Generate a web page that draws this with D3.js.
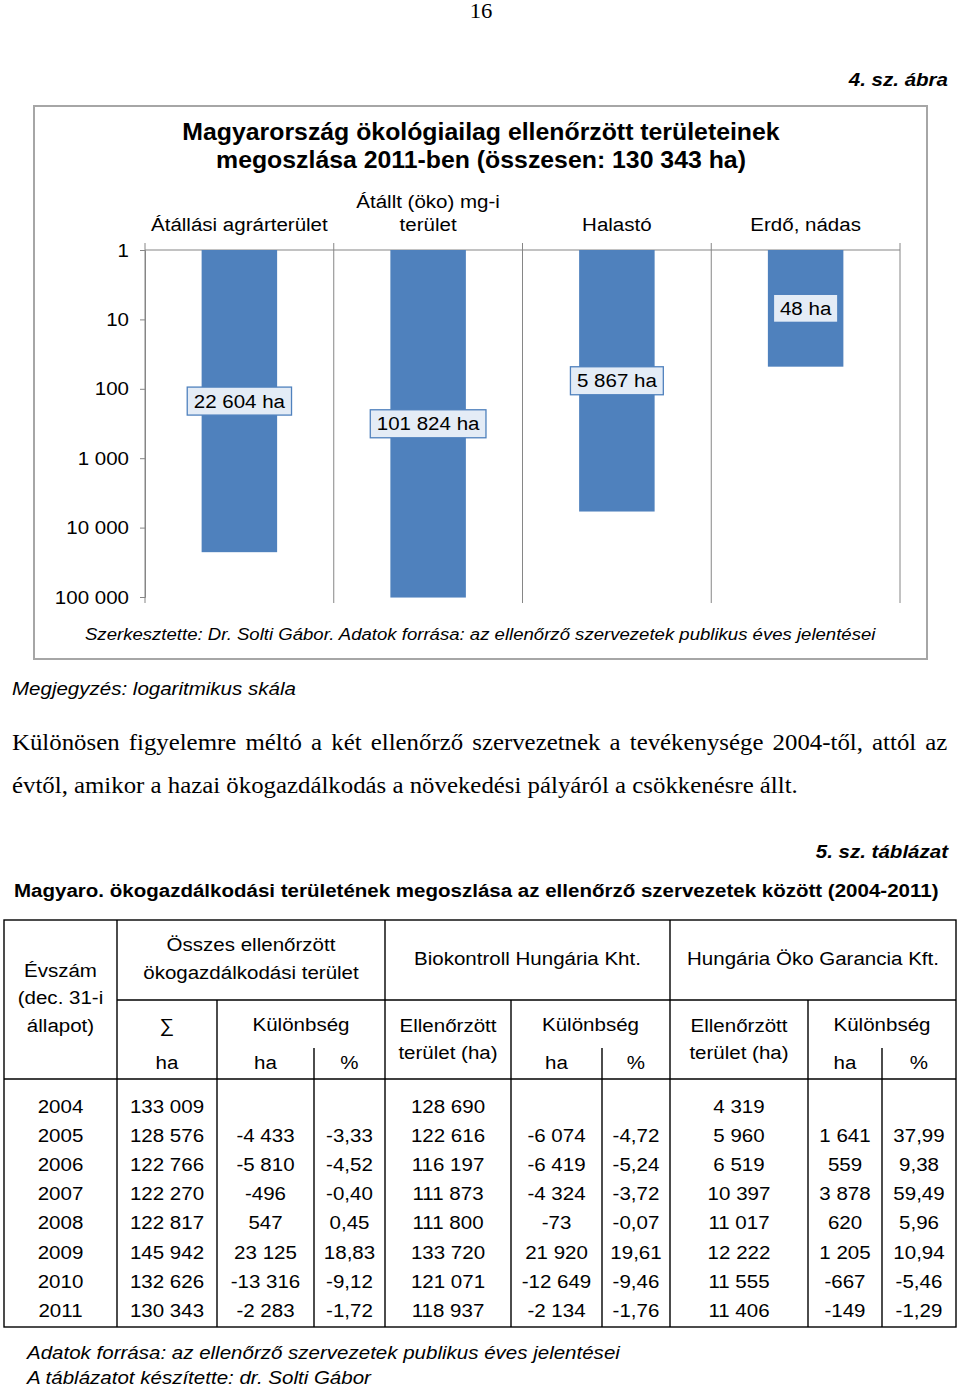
<!DOCTYPE html>
<html>
<head>
<meta charset="utf-8">
<script src="https://cdn.jsdelivr.net/npm/d3@7"></script>
<style>
  body { margin: 0; background: #fff; }
  svg { display: block; }
  text { font-family: "Liberation Sans", Arial, sans-serif; fill: #000; }
  .serif { font-family: "Liberation Serif", "Times New Roman", serif; }
</style>
</head>
<body>
<svg id="page" width="960" height="1388"></svg>
<script>
// chart data (2011)
const categories = ["Átállási agrárterület", "Átállt (öko) mg-i\nterület", "Halastó", "Erdő, nádas"];
const areas = [22604, 101824, 5867, 48];
const yTicks = [1, 10, 100, 1000, 10000, 100000];

// table data
const years = [2004, 2005, 2006, 2007, 2008, 2009, 2010, 2011];
const totalHa = [133009, 128576, 122766, 122270, 122817, 145942, 132626, 130343];
const totalDiff = [null, -4433, -5810, -496, 547, 23125, -13316, -2283];
const totalPct = [null, -3.33, -4.52, -0.40, 0.45, 18.83, -9.12, -1.72];
const bioHa = [128690, 122616, 116197, 111873, 111800, 133720, 121071, 118937];
const bioDiff = [null, -6074, -6419, -4324, -73, 21920, -12649, -2134];
const bioPct = [null, -4.72, -5.24, -3.72, -0.07, 19.61, -9.46, -1.76];
const hogHa = [4319, 5960, 6519, 10397, 11017, 12222, 11555, 11406];
const hogDiff = [null, 1641, 559, 3878, 620, 1205, -667, -149];
const hogPct = [null, 37.99, 9.38, 59.49, 5.96, 10.94, -5.46, -1.29];

const hu = d3.formatLocale({decimal: ",", thousands: " ", grouping: [3], currency: ["", " Ft"], minus: "-"});
const fInt = hu.format(",d");
const fPct = hu.format(".2f");

// the original text is a bit wider than the fonts we have
const k = 1.08;

let svg = d3.select("#page");

// page header
svg.append("text").attr("class", "serif").attr("x", 481).attr("y", 18)
    .attr("text-anchor", "middle").style("font-size", "21px").text("16");
svg.append("text").attr("x", 948).attr("y", 86).attr("text-anchor", "end")
    .style("font-size", "19px").style("font-weight", "bold").style("font-style", "italic")
    .text("4. sz. ábra");

// chart frame
svg.append("rect").attr("x", 34).attr("y", 106).attr("width", 893).attr("height", 553)
    .attr("fill", "#fff").attr("stroke", "#a6a6a6").attr("stroke-width", 2);

svg.append("text").attr("x", 481).attr("y", 140).attr("text-anchor", "middle")
    .style("font-size", "23px").style("font-weight", "bold")
    .selectAll("tspan").data(["Magyarország ökológiailag ellenőrzött területeinek", "megoszlása 2011-ben (összesen: 130 343 ha)"])
    .join("tspan").attr("x", 481).attr("dy", (d, i) => i ? 28 : 0).text(d => d);

let x = d3.scaleBand().domain(categories).range([145, 900]).paddingInner(0.6).paddingOuter(0.3);
let y = d3.scaleLog().domain([1, 100000]).range([250, 597]);

let chart = svg.append("g");

// category separators
chart.selectAll("line.sep")
    .data(categories.map(c => x(c) - x.step() * 0.3).concat([900]))
    .join("line").attr("class", "sep")
    .attr("x1", d => d).attr("x2", d => d).attr("y1", 243).attr("y2", 603)
    .attr("stroke", "#868686").attr("stroke-width", 1);

chart.append("line").attr("x1", 145).attr("x2", 900).attr("y1", y(1)).attr("y2", y(1))
    .attr("stroke", "#868686").attr("stroke-width", 1.2);

// value axis
let yAxis = chart.append("g").attr("transform", "translate(145,0)")
    .call(d3.axisLeft(y).tickValues(yTicks).tickFormat(fInt).tickSize(5).tickPadding(11));
yAxis.select(".domain").attr("stroke", "#868686");
yAxis.selectAll(".tick line").attr("stroke", "#868686");
yAxis.selectAll(".tick text").style("font-size", "19px").style("font-family", "Liberation Sans, Arial, sans-serif");

// category labels on top
chart.selectAll("text.cat").data(categories).join("text").attr("class", "cat")
    .attr("text-anchor", "middle").style("font-size", "19px")
    .each(function(d) {
        let lines = d.split("\n");
        let cx = x(d) + x.bandwidth() / 2;
        d3.select(this).attr("x", cx).selectAll("tspan").data(lines).join("tspan")
            .attr("x", cx).attr("y", (l, i) => 231 - (lines.length - 1 - i) * 23).text(l => l);
    });

// bars
chart.selectAll("rect.bar").data(areas).join("rect").attr("class", "bar")
    .attr("x", (d, i) => x(categories[i])).attr("width", x.bandwidth())
    .attr("y", y(1)).attr("height", d => y(d) - y(1))
    .attr("fill", "#4F81BD");

// data labels
let lab = chart.selectAll("g.lab").data(areas).join("g").attr("class", "lab")
    .attr("transform", (d, i) => `translate(${x(categories[i]) + x.bandwidth() / 2},${(y(1) + y(d)) / 2})`);
lab.append("rect").attr("fill", "#e4ecf6").attr("stroke", "#4F81BD").attr("stroke-width", 1.3);
lab.append("text").attr("x", 0).attr("text-anchor", "middle").attr("dy", "0.35em")
    .style("font-size", "19px").text(d => fInt(d) + " ha");
lab.each(function() {
    let g = d3.select(this);
    let w = g.select("text").node().getComputedTextLength() * k + 13;
    g.select("rect").attr("x", -w / 2).attr("y", -14).attr("width", w).attr("height", 28);
});

svg.append("text").attr("x", 85).attr("y", 640).style("font-size", "17.2px").style("font-style", "italic")
    .text("Szerkesztette: Dr. Solti Gábor. Adatok forrása: az ellenőrző szervezetek publikus éves jelentései");

svg.append("text").attr("x", 12).attr("y", 695).style("font-size", "19px").style("font-style", "italic")
    .text("Megjegyzés: logaritmikus skála");

// paragraph, first line justified
let p1 = svg.append("text").attr("class", "serif").attr("x", 12).attr("y", 750).style("font-size", "23px")
    .text("Különösen figyelemre méltó a két ellenőrző szervezetnek a tevékenysége 2004-től, attól az");
let len = p1.node().getComputedTextLength();
let spaces = p1.text().split(" ").length - 1;
p1.attr("word-spacing", (936 / k - len) / spaces);
svg.append("text").attr("class", "serif").attr("x", 12).attr("y", 793).style("font-size", "23px")
    .text("évtől, amikor a hazai ökogazdálkodás a növekedési pályáról a csökkenésre állt.");

svg.append("text").attr("x", 948).attr("y", 858).attr("text-anchor", "end")
    .style("font-size", "19px").style("font-weight", "bold").style("font-style", "italic")
    .text("5. sz. táblázat");
svg.append("text").attr("x", 14).attr("y", 897).style("font-size", "19px").style("font-weight", "bold")
    .text("Magyaro. ökogazdálkodási területének megoszlása az ellenőrző szervezetek között (2004-2011)");

// table
const cols = [4, 117, 217, 314, 385, 511, 602, 670, 808, 882, 956];
const tTop = 920, tMid = 1000, tSub = 1048, tHead = 1079, tBottom = 1327;
let tbl = svg.append("g").attr("stroke", "#000").attr("stroke-width", 1.4);
tbl.append("rect").attr("x", cols[0]).attr("y", tTop).attr("width", cols[10] - cols[0]).attr("height", tBottom - tTop).attr("fill", "none");
[[cols[1], tTop], [cols[4], tTop], [cols[7], tTop],
 [cols[2], tMid], [cols[5], tMid], [cols[8], tMid],
 [cols[3], tSub], [cols[6], tSub], [cols[9], tSub]].forEach(([cx, y0]) => {
    tbl.append("line").attr("x1", cx).attr("x2", cx).attr("y1", y0).attr("y2", tBottom);
});
tbl.append("line").attr("x1", cols[1]).attr("x2", cols[10]).attr("y1", tMid).attr("y2", tMid);
tbl.append("line").attr("x1", cols[0]).attr("x2", cols[10]).attr("y1", tHead).attr("y2", tHead);

let centre = i => (cols[i] + cols[i + 1]) / 2;
let headTexts = [
    [centre(0), 977, "Évszám"], [centre(0), 1004, "(dec. 31-i"], [centre(0), 1032, "állapot)"],
    [(cols[1] + cols[4]) / 2, 951, "Összes ellenőrzött"], [(cols[1] + cols[4]) / 2, 979, "ökogazdálkodási terület"],
    [(cols[4] + cols[7]) / 2, 965, "Biokontroll Hungária Kht."],
    [(cols[7] + cols[10]) / 2, 965, "Hungária Öko Garancia Kft."],
    [centre(1), 1032, "∑"], [(cols[2] + cols[4]) / 2, 1031, "Különbség"],
    [centre(4), 1032, "Ellenőrzött"], [centre(4), 1059, "terület (ha)"],
    [(cols[5] + cols[7]) / 2, 1031, "Különbség"],
    [centre(7), 1032, "Ellenőrzött"], [centre(7), 1059, "terület (ha)"],
    [(cols[8] + cols[10]) / 2, 1031, "Különbség"],
    [centre(1), 1069, "ha"], [centre(2), 1069, "ha"], [centre(3), 1069, "%"],
    [centre(5), 1069, "ha"], [centre(6), 1069, "%"],
    [centre(8), 1069, "ha"], [centre(9), 1069, "%"]
];
svg.append("g").selectAll("text").data(headTexts).join("text")
    .attr("x", d => d[0]).attr("y", d => d[1]).attr("text-anchor", "middle")
    .style("font-size", "19px").text(d => d[2]);

let rowY = d3.scalePoint().domain(years).range([1106, 1310]);
let columns = [
    years.map(String), totalHa.map(fInt), totalDiff.map(v => v == null ? "" : fInt(v)),
    totalPct.map(v => v == null ? "" : fPct(v)), bioHa.map(fInt),
    bioDiff.map(v => v == null ? "" : fInt(v)), bioPct.map(v => v == null ? "" : fPct(v)),
    hogHa.map(fInt), hogDiff.map(v => v == null ? "" : fInt(v)), hogPct.map(v => v == null ? "" : fPct(v))
];
let body = svg.append("g");
columns.forEach((col, ci) => {
    body.selectAll(null).data(col).join("text")
        .attr("x", centre(ci)).attr("y", (d, i) => rowY(years[i])).attr("dy", "0.36em")
        .attr("text-anchor", "middle").style("font-size", "19px").text(d => d);
});

svg.append("text").attr("x", 27).attr("y", 1359).style("font-size", "19px").style("font-style", "italic")
    .text("Adatok forrása: az ellenőrző szervezetek publikus éves jelentései");
svg.append("text").attr("x", 27).attr("y", 1384).style("font-size", "19px").style("font-style", "italic")
    .text("A táblázatot készítette: dr. Solti Gábor");

// widen every text a little around its own anchor
svg.selectAll("text").each(function() {
    let t = d3.select(this);
    let x0 = +t.attr("x") || 0;
    t.attr("transform", `translate(${x0 * (1 - k)},0) scale(${k},1)`);
});
</script>
</body>
</html>
